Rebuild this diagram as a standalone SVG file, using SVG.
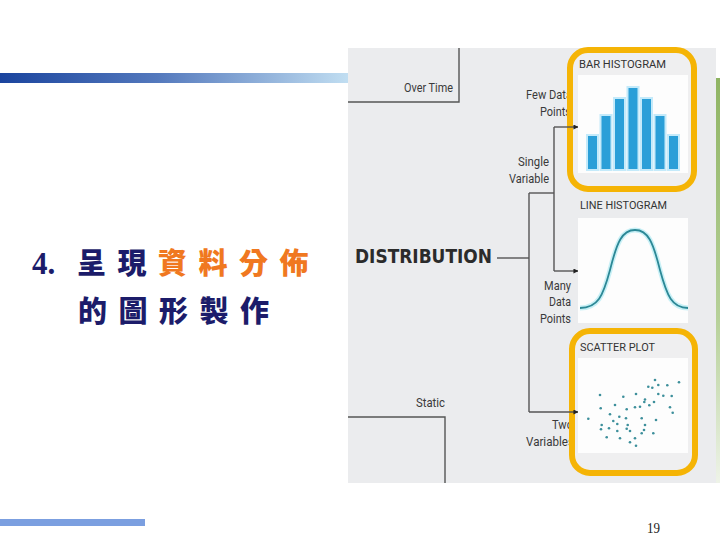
<svg xmlns="http://www.w3.org/2000/svg" width="720" height="540" viewBox="0 0 720 540">
<defs>
<linearGradient id="topbar" x1="0" y1="0" x2="1" y2="0">
<stop offset="0" stop-color="#1a449e"/>
<stop offset="0.45" stop-color="#5479bd"/>
<stop offset="1" stop-color="#c2dff2"/>
</linearGradient>
<linearGradient id="greenbar" x1="0" y1="0" x2="0" y2="1">
<stop offset="0" stop-color="#8fb463"/>
<stop offset="0.6" stop-color="#b7d19a"/>
<stop offset="1" stop-color="#eef3e8"/>
</linearGradient>
<marker id="arr" viewBox="0 0 6 6" refX="5.5" refY="3" markerWidth="5" markerHeight="5" orient="auto" markerUnits="userSpaceOnUse">
<path d="M0,0 L6,3 L0,6 z" fill="#222"/>
</marker>
<style>
.lbl{font-family:Roboto,"Liberation Sans",sans-serif;font-size:13px;fill:#3a3a3a}
.cap{font-family:Roboto,"Liberation Sans",sans-serif;font-size:11.5px;fill:#333}
.ln{stroke:#555;stroke-width:1.4;fill:none}
.yb{fill:#efeff0;stroke:#f5b405;stroke-width:6}
.panel{fill:#fdfdfd}
.bar{fill:#2a9fd8;stroke:#c4eafa;stroke-width:2}
.dot{fill:#3d8f9b}
.cjk{font-family:"Noto Sans CJK TC","Noto Sans CJK SC",sans-serif;font-weight:900;font-size:29px;letter-spacing:11.5px}
</style>
</defs>
<rect width="720" height="540" fill="#ffffff"/>
<rect x="0" y="73" width="350" height="10" fill="url(#topbar)"/>
<rect x="0" y="519" width="145" height="7" fill="#7b9fe0"/>
<text x="647" y="533" font-family="Liberation Serif, serif" font-size="15" textLength="13" lengthAdjust="spacingAndGlyphs" fill="#222">19</text>
<g id="title">
<text x="32" y="274" font-family="Liberation Serif, serif" font-weight="bold" font-size="31" fill="#1c1c6a">4.</text>
<text x="77" y="274" class="cjk" fill="#1c1c6a">呈現<tspan fill="#f07820">資料分佈</tspan></text>
<text x="78" y="322" class="cjk" fill="#1c1c6a">的圖形製作</text>
</g>
<g id="chart">
<rect x="348" y="48" width="368" height="435" fill="#ebecee"/>
<rect x="716" y="78" width="4" height="405" fill="url(#greenbar)"/>
<g id="labels">
<text class="lbl" x="404" y="92" textLength="49" lengthAdjust="spacingAndGlyphs">Over Time</text>
<text class="lbl" x="416" y="407" textLength="29" lengthAdjust="spacingAndGlyphs">Static</text>
<text class="lbl" x="526" y="99" textLength="46" lengthAdjust="spacingAndGlyphs">Few Data</text>
<text class="lbl" x="540" y="116" textLength="31" lengthAdjust="spacingAndGlyphs">Points</text>
<text class="lbl" x="518" y="166" textLength="31" lengthAdjust="spacingAndGlyphs">Single</text>
<text class="lbl" x="509" y="183" textLength="40" lengthAdjust="spacingAndGlyphs">Variable</text>
<text class="lbl" x="544" y="290" textLength="27" lengthAdjust="spacingAndGlyphs">Many</text>
<text class="lbl" x="549" y="306" textLength="22" lengthAdjust="spacingAndGlyphs">Data</text>
<text class="lbl" x="540" y="323" textLength="31" lengthAdjust="spacingAndGlyphs">Points</text>
<text class="lbl" x="552" y="429" textLength="21" lengthAdjust="spacingAndGlyphs">Two</text>
<text class="lbl" x="526" y="446" textLength="48" lengthAdjust="spacingAndGlyphs">Variables</text>
<text id="distribution" x="355" y="263" font-family="DejaVu Sans, sans-serif" font-weight="bold" font-size="20" fill="#2b2b2b" textLength="137" lengthAdjust="spacingAndGlyphs">DISTRIBUTION</text>
</g>
<g id="bar-histogram">
<rect class="yb" x="570" y="50" width="124" height="139" rx="18"/>
<text class="cap" x="579" y="68" textLength="87" lengthAdjust="spacingAndGlyphs">BAR HISTOGRAM</text>
<rect class="panel" x="578" y="75" width="110" height="98"/>
<rect class="bar" x="587" y="135" width="11" height="35"/>
<rect class="bar" x="600.5" y="115" width="11" height="55"/>
<rect class="bar" x="614" y="98" width="11" height="72"/>
<rect class="bar" x="627.5" y="87" width="11" height="83"/>
<rect class="bar" x="641" y="98" width="11" height="72"/>
<rect class="bar" x="654.5" y="115" width="11" height="55"/>
<rect class="bar" x="668" y="135" width="11" height="35"/>
</g>
<g id="line-histogram">
<text class="cap" x="580" y="209" textLength="87" lengthAdjust="spacingAndGlyphs">LINE HISTOGRAM</text>
<rect class="panel" x="578" y="218" width="110" height="105"/>
<path d="M580,308 C598,308 603,296 610,270 C617,242 622,230 635,230 C648,230 653,242 660,270 C667,296 672,308 688,308" fill="none" stroke="#c8f0f6" stroke-width="5"/>
<path d="M580,308 C598,308 603,296 610,270 C617,242 622,230 635,230 C648,230 653,242 660,270 C667,296 672,308 688,308" fill="none" stroke="#2c8896" stroke-width="1.8"/>
</g>
<g id="scatter-plot">
<rect class="yb" x="572" y="331" width="123" height="142" rx="18"/>
<text class="cap" x="580" y="351" textLength="75" lengthAdjust="spacingAndGlyphs">SCATTER PLOT</text>
<rect class="panel" x="578" y="358" width="110" height="95"/>
<g class="dot">
<circle cx="655" cy="380" r="1.3"/><circle cx="679" cy="382.3" r="1.3"/><circle cx="648.3" cy="386.7" r="1.3"/><circle cx="652.3" cy="387.7" r="1.3"/><circle cx="658.3" cy="385" r="1.3"/><circle cx="667.3" cy="385.3" r="1.3"/>
<circle cx="600" cy="395" r="1.3"/><circle cx="623.3" cy="396.7" r="1.3"/><circle cx="636" cy="394" r="1.3"/><circle cx="645" cy="399.5" r="1.3"/><circle cx="644.3" cy="402" r="1.3"/><circle cx="654" cy="402" r="1.3"/><circle cx="658.3" cy="394" r="1.3"/><circle cx="663.3" cy="395.7" r="1.3"/><circle cx="671.7" cy="396" r="1.3"/>
<circle cx="600.7" cy="408.3" r="1.3"/><circle cx="615" cy="405" r="1.3"/><circle cx="626.7" cy="409.3" r="1.3"/><circle cx="635" cy="407.3" r="1.3"/><circle cx="640" cy="406.7" r="1.3"/><circle cx="649.3" cy="405.3" r="1.3"/><circle cx="670" cy="407.3" r="1.3"/><circle cx="672.7" cy="412.7" r="1.3"/>
<circle cx="588.3" cy="418.7" r="1.3"/><circle cx="610" cy="414.3" r="1.3"/><circle cx="619.3" cy="416.7" r="1.3"/><circle cx="626" cy="418.3" r="1.3"/><circle cx="641.7" cy="418.3" r="1.3"/><circle cx="656" cy="420" r="1.3"/><circle cx="613.3" cy="421" r="1.3"/><circle cx="627.7" cy="425" r="1.3"/><circle cx="601.7" cy="425" r="1.3"/>
<circle cx="601" cy="429.3" r="1.3"/><circle cx="609" cy="428.3" r="1.3"/><circle cx="617.3" cy="431" r="1.3"/><circle cx="626.7" cy="428.7" r="1.3"/><circle cx="630" cy="431" r="1.3"/><circle cx="645" cy="425" r="1.3"/><circle cx="644" cy="430" r="1.3"/><circle cx="641.7" cy="433.3" r="1.3"/><circle cx="653.3" cy="433.3" r="1.3"/>
<circle cx="606.7" cy="437.3" r="1.3"/><circle cx="620" cy="438.3" r="1.3"/><circle cx="630" cy="442.3" r="1.3"/><circle cx="635" cy="438.3" r="1.3"/><circle cx="636" cy="445.7" r="1.3"/><circle cx="617.3" cy="424" r="1.3"/>
</g>
</g>
<g id="connectors">
<path class="ln" d="M459,48 V102 H348"/>
<path class="ln" d="M348,417 H445 V483"/>
<path class="ln" d="M497,258 H529"/>
<path class="ln" d="M529,193 V412"/>
<path class="ln" d="M529,193 H554"/>
<path class="ln" d="M554,127 V271"/>
<path class="ln" d="M554,127 H578" marker-end="url(#arr)"/>
<path class="ln" d="M554,271 H578" marker-end="url(#arr)"/>
<path class="ln" d="M529,412 H578" marker-end="url(#arr)"/>
</g>
</g>
</svg>
